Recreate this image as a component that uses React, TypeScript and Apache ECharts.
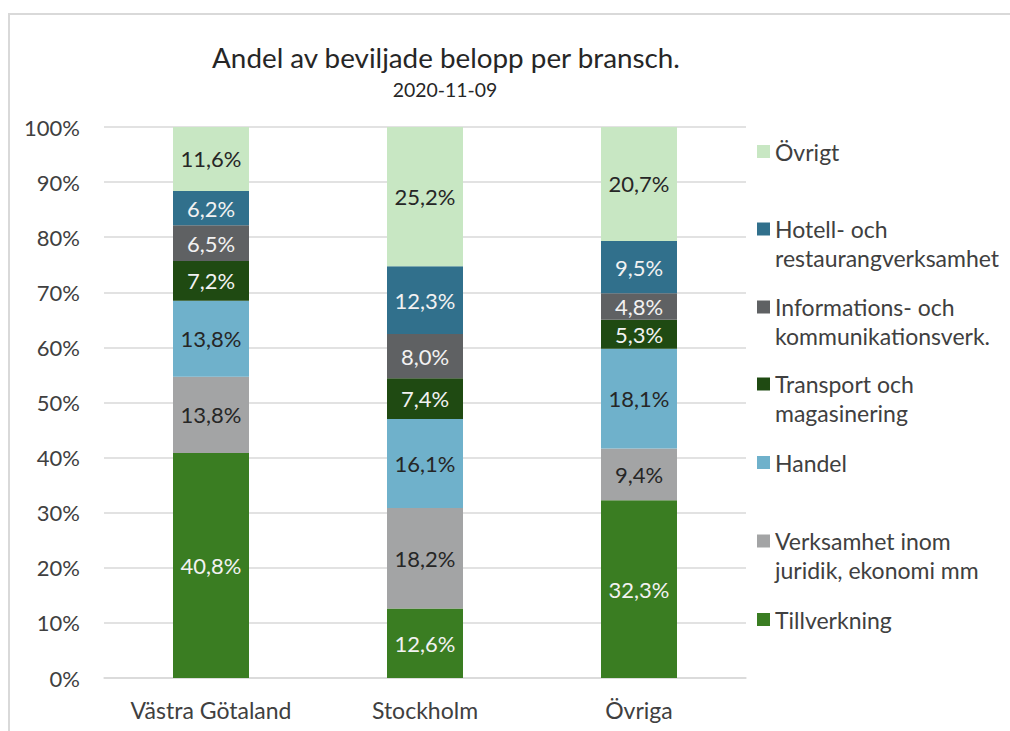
import { useEffect, useRef } from "react";
import * as echarts from "echarts";

const categories = ["Västra Götaland", "Stockholm", "Övriga"];
const tillverkning = [40.8, 12.6, 32.3];
const verksamhet = [13.8, 18.2, 9.4];
const handel = [13.8, 16.1, 18.1];
const transport = [7.2, 7.4, 5.3];
const information = [6.5, 8.0, 4.8];
const hotell = [6.2, 12.3, 9.5];
const ovrigt = [11.6, 25.2, 20.7];

const seriesNames = [
  "Tillverkning",
  "Verksamhet inom\njuridik, ekonomi mm",
  "Handel",
  "Transport och\nmagasinering",
  "Informations- och\nkommunikationsverk.",
  "Hotell- och\nrestaurangverksamhet",
  "Övrigt",
];
const seriesValues = [tillverkning, verksamhet, handel, transport, information, hotell, ovrigt];
const seriesColors = ["#3A7D22", "#A3A4A5", "#6FB1CB", "#1F4A12", "#5F6163", "#31708C", "#C8E7C3"];
const labelColors = ["#F2F2F2", "#262626", "#262626", "#F2F2F2", "#F2F2F2", "#F2F2F2", "#262626"];

const title = "Andel av beviljade belopp per bransch.";
const subtitle = "2020-11-09";

const FONT = "Lato, 'Noto Sans', sans-serif";

export default function App() {
  const ref = useRef<HTMLDivElement>(null);
  useEffect(() => {
    if (!ref.current) return;
    const chart = echarts.init(ref.current, undefined, { renderer: "svg" });
    const totals = categories.map((_, i) => seriesValues.reduce((s, arr) => s + arr[i], 0));
    const fmt = (v: number) => v.toFixed(1).replace(".", ",") + "%";

    const legendOrder = [6, 5, 4, 3, 2, 1, 0];
    const markerCenters = [151.5, 229, 307, 384, 462.5, 541, 619.5];
    const LH = 29;

    const series = seriesNames.map((name, si) => ({
      name,
      type: "bar",
      stack: "total",
      barWidth: 76,
      itemStyle: { color: seriesColors[si] },
      label: {
        show: true,
        position: "inside",
        fontFamily: FONT,
        fontSize: 22,
        color: labelColors[si],
        formatter: (p: any) => fmt(seriesValues[si][p.dataIndex]),
      },
      emphasis: { disabled: true },
      data: seriesValues[si].map((v, i) => (v / totals[i]) * 100),
    }));

    const legends = legendOrder.map((si, k) => {
      const twoLine = seriesNames[si].includes("\n");
      return {
        data: [seriesNames[si]],
        orient: "vertical",
        left: 757,
        top: markerCenters[k] - (twoLine ? LH * 1.5 : LH / 2),
        itemWidth: 13,
        itemHeight: 13,
        itemGap: 0,
        padding: 0,
        icon: "rect",
        selectedMode: false,
        formatter: (n: string) => (n.includes("\n") ? "\n" + n : n),
        textStyle: {
          fontFamily: FONT,
          fontSize: 23,
          color: "#404040",
          lineHeight: LH,
        },
      };
    });

    chart.setOption({
      animation: false,
      backgroundColor: "#ffffff",
      textStyle: { fontFamily: FONT },
      graphic: [
        {
          type: "rect",
          shape: { x: 9, y: 14, width: 1200, height: 900 },
          style: { fill: "none", stroke: "#D9D9D9", lineWidth: 2 },
          silent: true,
        },
        {
          type: "text",
          x: 446,
          y: 57,
          style: {
            text: title,
            fontFamily: FONT,
            fontSize: 27.8,
            fill: "#262626",
            align: "center",
            verticalAlign: "middle",
          },
        },
        {
          type: "text",
          x: 445,
          y: 89,
          style: {
            text: subtitle,
            fontFamily: FONT,
            fontSize: 19.4,
            fill: "#262626",
            align: "center",
            verticalAlign: "middle",
          },
        },
      ],
      legend: legends,
      grid: { left: 104, right: 264, top: 127, bottom: 53, containLabel: false },
      xAxis: {
        type: "category",
        data: categories,
        axisTick: { show: false },
        axisLine: { show: true, lineStyle: { color: "#D9D9D9", width: 1.5 } },
        axisLabel: { fontFamily: FONT, fontSize: 23, color: "#404040", margin: 20 },
      },
      yAxis: {
        type: "value",
        min: 0,
        max: 100,
        interval: 10,
        axisLine: { show: false },
        axisTick: { show: false },
        splitLine: { lineStyle: { color: "#D9D9D9", width: 1.5 } },
        axisLabel: {
          fontFamily: FONT,
          fontSize: 22,
          color: "#404040",
          margin: 24,
          formatter: "{value}%",
        },
      },
      series,
    });
    return () => chart.dispose();
  }, []);
  return (
    <div
      ref={ref}
      style={{ position: "absolute", left: 0, top: 0, width: 1010, height: 731 }}
    />
  );
}
